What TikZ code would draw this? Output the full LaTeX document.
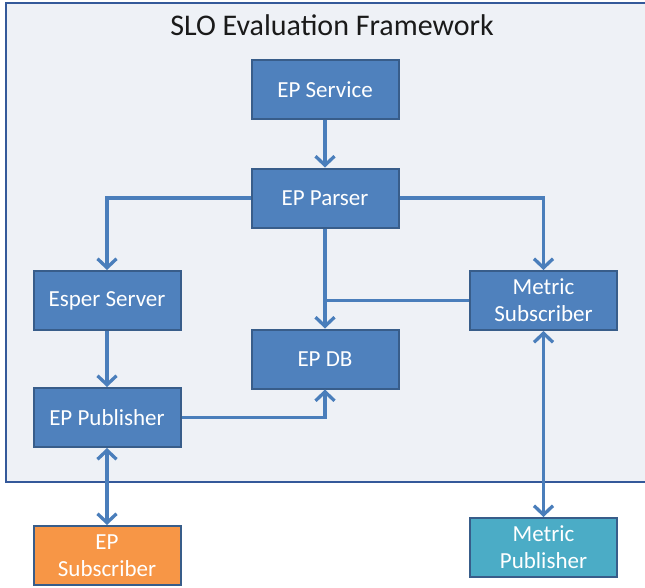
\documentclass[tikz,border=0pt]{standalone}
\usepackage{fontspec}
\setmainfont{Carlito}
\usetikzlibrary{arrows.meta}
\definecolor{framefill}{HTML}{EEF1F6}
\definecolor{frameedge}{HTML}{34599A}
\definecolor{boxblue}{HTML}{4F81BD}
\definecolor{boxedge}{HTML}{385D8A}
\definecolor{linkblue}{HTML}{4A7EBB}
\definecolor{boxorange}{HTML}{F79646}
\definecolor{boxteal}{HTML}{4BACC6}
\definecolor{titlecol}{HTML}{1A1A1A}
\begin{document}
\begin{tikzpicture}[x=1pt,y=-1pt,
  box/.style={draw=boxedge,line width=2pt,fill=boxblue,text=white,
    minimum width=147pt,minimum height=59pt,inner sep=0pt,align=center,
    font=\fontsize{23}{27}\selectfont},
  link/.style={draw=linkblue,line width=3.3pt},
  conn/.style={link,-{Straight Barb[length=9pt,width=19pt]}},
  connboth/.style={link,{Straight Barb[length=9pt,width=19pt]}-{Straight Barb[length=9pt,width=19pt]}}]
\useasboundingbox (0,0) rectangle (645,587);
\fill[white] (0,0) rectangle (645,587);
\fill[framefill] (6,3) rectangle (645,482);
\draw[frameedge,line width=2.5pt] (646,3) -- (6,3) -- (6,482) -- (646,482);
\node[text=titlecol,font=\fontsize{30}{36}\selectfont,anchor=base] (title) at (332,35) {SLO Evaluation Framework};
\node[box] (svc) at (325,89.5) {EP Service};
\node[box] (parser) at (325,198) {EP Parser};
\node[box] (esper) at (107,300.5) {Esper Server};
\node[box] (db) at (325,359) {EP DB};
\node[box] (msub) at (543.5,300.5) {Metric\\Subscriber};
\node[box] (pub) at (107,417.5) {EP Publisher};
\node[box,fill=boxorange] (esub) at (107,555.5) {EP\\Subscriber};
\node[box,fill=boxteal] (mpub) at (543.5,547.5) {Metric\\Publisher};
\draw[conn] (svc) -- (parser);
\draw[conn] (parser.west) -| (esper.north);
\draw[conn] (parser.east) -| (msub.north);
\draw[conn] (parser.south) -- (db.north);
\coordinate (join) at (parser.south |- msub.west);
\draw[link] (msub.west) -- (join);
\draw[conn] (esper) -- (pub);
\draw[conn] (pub.east) -| (db.south);
\draw[connboth] (pub) -- (esub);
\draw[connboth] (msub) -- (mpub);
\end{tikzpicture}
\end{document}
